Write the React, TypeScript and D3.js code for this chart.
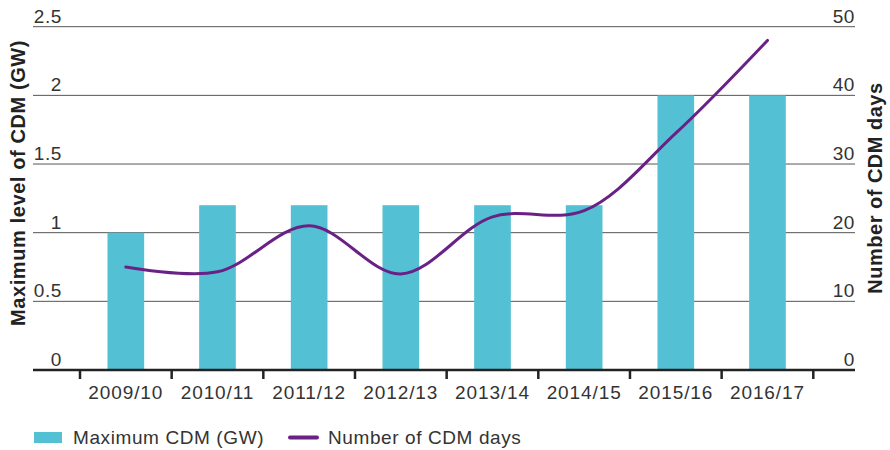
import React from "react";
import * as d3 from "d3";

const years = ["2009/10", "2010/11", "2011/12", "2012/13", "2013/14", "2014/15", "2015/16", "2016/17"];
const maxCdm = [1.0, 1.2, 1.2, 1.2, 1.2, 1.2, 2.0, 2.0];
const cdmDays = [15, 14.3, 21, 14, 22.3, 23.2, 34.5, 48];
const leftTicks = [0, 0.5, 1, 1.5, 2, 2.5];
const rightTicks = [0, 10, 20, 30, 40, 50];

const width = 890;
const height = 450;
const gridLeft = 33;
const gridRight = 855;
const font = "'Liberation Sans', Arial, sans-serif";

export default function App() {
  const x = d3.scaleBand().domain(years).range([80, 813.3]).padding(0);
  const y = d3.scaleLinear().domain([0, 2.5]).range([370, 26.7]);
  const y2 = d3.scaleLinear().domain([0, 50]).range([370, 26.7]);
  const barW = x.bandwidth() * 0.4;
  const cx = (d: string) => (x(d) ?? 0) + x.bandwidth() / 2;

  const line = d3
    .line<number>()
    .x((_, i) => cx(years[i]))
    .y((d) => y2(d))
    .curve(d3.curveCatmullRom.alpha(0.5));

  const edges = years.map((d) => x(d) ?? 0).concat([813.3]);

  return (
    <svg width={width} height={height} style={{ position: "absolute", left: 0, top: 0 }} fontFamily={font}>
      {/* gridlines */}
      {leftTicks.slice(1).map((t) => (
        <line key={t} x1={gridLeft} x2={gridRight} y1={y(t)} y2={y(t)} stroke="#555" strokeWidth={1} />
      ))}
      {/* bars */}
      {years.map((d, i) => (
        <rect key={d} x={cx(d) - barW / 2} y={y(maxCdm[i])} width={barW} height={y(0) - y(maxCdm[i])} fill="#53c0d4" />
      ))}
      {/* line */}
      <path d={line(cdmDays) ?? ""} fill="none" stroke="#6a2185" strokeWidth={3} strokeLinecap="round" />
      {/* x axis */}
      <line x1={gridLeft} x2={gridRight} y1={370} y2={370} stroke="#222" strokeWidth={2.5} />
      {edges.map((e, i) => (
        <line key={i} x1={e} x2={e} y1={370} y2={379} stroke="#222" strokeWidth={2.5} />
      ))}
      {years.map((d) => (
        <text key={d} x={cx(d)} y={399} textAnchor="middle" fontSize={19} fill="#333" letterSpacing={0.9}>
          {d}
        </text>
      ))}
      {/* left ticks */}
      {leftTicks.map((t) => (
        <text key={t} x={62} y={y(t) - 4} textAnchor="end" fontSize={19} fill="#333" letterSpacing={0.6}>
          {t}
        </text>
      ))}
      {/* right ticks */}
      {rightTicks.map((t) => (
        <text key={t} x={855} y={y2(t) - 4} textAnchor="end" fontSize={19} fill="#333" letterSpacing={0.6}>
          {t}
        </text>
      ))}
      {/* axis titles */}
      <text transform="translate(25,183) rotate(-90)" textAnchor="middle" fontSize={20} fontWeight="bold" fill="#222" letterSpacing={0.6}>
        Maximum level of CDM (GW)
      </text>
      <text transform="translate(882,188) rotate(-90)" textAnchor="middle" fontSize={20} fontWeight="bold" fill="#222" letterSpacing={0.5}>
        Number of CDM days
      </text>
      {/* legend */}
      <rect x={34} y={432} width={28} height={11} fill="#53c0d4" />
      <text x={73} y={444} fontSize={19} fill="#333" letterSpacing={0.6}>
        Maximum CDM (GW)
      </text>
      <line x1={290} x2={317} y1={437.5} y2={437.5} stroke="#6a2185" strokeWidth={4} strokeLinecap="round" />
      <text x={328} y={444} fontSize={19} fill="#333" letterSpacing={0.6}>
        Number of CDM days
      </text>
    </svg>
  );
}
